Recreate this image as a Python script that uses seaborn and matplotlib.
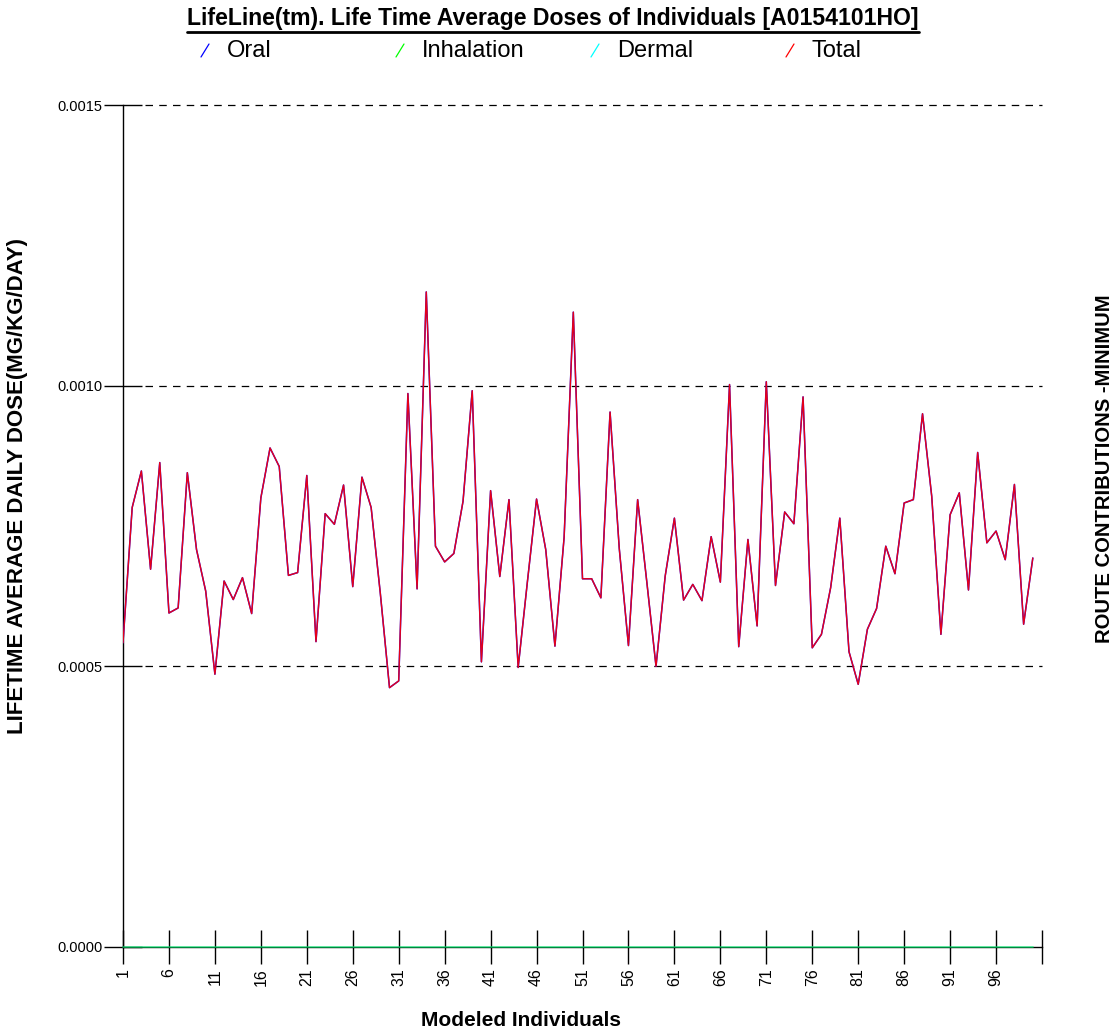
import numpy as np
import pandas as pd
import matplotlib
matplotlib.use("Agg")
import matplotlib.pyplot as plt
from matplotlib.lines import Line2D
import seaborn as sns

# ---------------- data ----------------
individuals = list(range(1, 101))

total = [0.000542, 0.000783, 0.000848, 0.000673, 0.000863, 0.000595, 0.000604, 0.000845, 0.000708, 0.000634,
         0.000486, 0.000652, 0.000619, 0.000658, 0.000594, 0.000800, 0.000889, 0.000856, 0.000662, 0.000667,
         0.000840, 0.000544, 0.000772, 0.000753, 0.000823, 0.000642, 0.000837, 0.000783, 0.000630, 0.000462,
         0.000474, 0.000986, 0.000638, 0.001167, 0.000714, 0.000686, 0.000701, 0.000794, 0.000991, 0.000508,
         0.000813, 0.000660, 0.000797, 0.000498, 0.000650, 0.000798, 0.000708, 0.000536, 0.000730, 0.001131,
         0.000656, 0.000656, 0.000622, 0.000953, 0.000710, 0.000537, 0.000797, 0.000650, 0.000500, 0.000661,
         0.000764, 0.000618, 0.000646, 0.000617, 0.000731, 0.000650, 0.001002, 0.000535, 0.000726, 0.000572,
         0.001007, 0.000644, 0.000775, 0.000754, 0.000980, 0.000533, 0.000557, 0.000640, 0.000764, 0.000526,
         0.000468, 0.000566, 0.000603, 0.000714, 0.000665, 0.000791, 0.000797, 0.000950, 0.000803, 0.000557,
         0.000770, 0.000809, 0.000636, 0.000881, 0.000720, 0.000741, 0.000690, 0.000824, 0.000575, 0.000693]

# Oral dose coincides with the total in the picture
oral = list(total)
inhalation = [0.0] * 100
dermal = [0.0] * 100

routes = ["Oral", "Inhalation", "Dermal", "Total"]
route_colors = {"Oral": "#0000FF", "Inhalation": "#00FF00", "Dermal": "#00FFFF", "Total": "#FF0000"}

y_ticks = [0.0, 0.0005, 0.0010, 0.0015]
y_tick_labels = ["0.0000", "0.0005", "0.0010", "0.0015"]
x_ticks = list(range(1, 102, 5))
x_tick_labels = [str(t) if t <= 96 else "" for t in x_ticks]

title = "LifeLine(tm). Life Time Average Doses of Individuals [A0154101HO]"
y_label = "LIFETIME AVERAGE DAILY DOSE(MG/KG/DAY)"
x_label = "Modeled Individuals"
right_label = "ROUTE CONTRIBUTIONS -MINIMUM"

df = pd.DataFrame({
    "Individual": individuals * 4,
    "Dose": oral + inhalation + dermal + total,
    "Route": sum([[r] * 100 for r in ["Oral", "Inhalation", "Dermal", "Total"]], []),
})

# ---------------- figure ----------------
sns.set_style("ticks")
plt.rcParams["font.family"] = ["Liberation Sans", "DejaVu Sans"]
plt.rcParams["text.color"] = "black"
plt.rcParams["axes.labelcolor"] = "black"
plt.rcParams["xtick.color"] = "black"
plt.rcParams["ytick.color"] = "black"

W, H = 1120, 1033
fig = plt.figure(figsize=(W / 100, H / 100), dpi=100)
ax = fig.add_axes([123 / W, 86 / H, 919 / W, 842 / H])

# zero-level routes (drawn on the axis line)
for r, a in [("Inhalation", 0.45), ("Dermal", 0.3)]:
    sns.lineplot(data=df[df.Route == r], x="Individual", y="Dose", color=route_colors[r],
                 lw=1.2, alpha=a, ax=ax, legend=False, clip_on=False, zorder=4)
sns.lineplot(data=df[df.Route == "Oral"], x="Individual", y="Dose", color=route_colors["Oral"],
             lw=1.1, ax=ax, legend=False, zorder=5)
sns.lineplot(data=df[df.Route == "Total"], x="Individual", y="Dose", color=route_colors["Total"],
             lw=1.0, alpha=0.9, ax=ax, legend=False, zorder=6)

ax.set_xlim(1, 101)
ax.set_ylim(0, 0.0015)

# dashed reference lines
for yv in y_ticks[1:]:
    ax.axhline(yv, xmin=22 / 919, xmax=1.0, color="black", lw=0.9, ls=(0, (6, 5)), zorder=1,
               clip_on=False)

ax.set_yticks(y_ticks)
ax.set_yticklabels(y_tick_labels, fontsize=10.5)
ax.set_xticks(x_ticks)
ax.set_xticklabels(x_tick_labels, fontsize=11.5, rotation=90)
ax.tick_params(axis="y", direction="inout", length=28, width=1, color="black", pad=1)
ax.tick_params(axis="x", direction="inout", length=25, width=1, color="black", pad=3)

sns.despine(ax=ax, top=True, right=True)
for s in ["left", "bottom"]:
    ax.spines[s].set_color("black")
    ax.spines[s].set_linewidth(1)

ax.set_ylabel(y_label, fontsize=16, fontweight="bold")
ax.yaxis.set_label_coords(-0.103, 0.547)
ax.set_xlabel(x_label, fontsize=15, fontweight="bold")
ax.xaxis.set_label_coords(0.433, -0.076)

fig.text(1105 / W, 1 - 469 / H, right_label, rotation=90, ha="center", va="center",
         fontsize=14.6, fontweight="bold")

t = fig.text(553 / W, 1 - 19 / H, title, ha="center", va="center", fontsize=16.6, fontweight="bold")

# legend row
leg_x = [205, 400, 595, 790]
for r, lx in zip(routes, leg_x):
    fig.add_artist(Line2D([(lx - 4) / W, (lx + 4) / W], [1 - 57 / H, 1 - 44 / H],
                          transform=fig.transFigure, color=route_colors[r], lw=0.9))
    fig.text((lx + 22) / W, 1 - 51 / H, r, ha="left", va="center", fontsize=17)

# underline the title
fig.canvas.draw()
bb = t.get_window_extent(renderer=fig.canvas.get_renderer())
uy = bb.y0 - 1
fig.add_artist(Line2D([bb.x0 / W, bb.x1 / W], [uy / H, uy / H], transform=fig.transFigure,
                      color="black", lw=2))

fig.savefig("out.png", dpi=100)
